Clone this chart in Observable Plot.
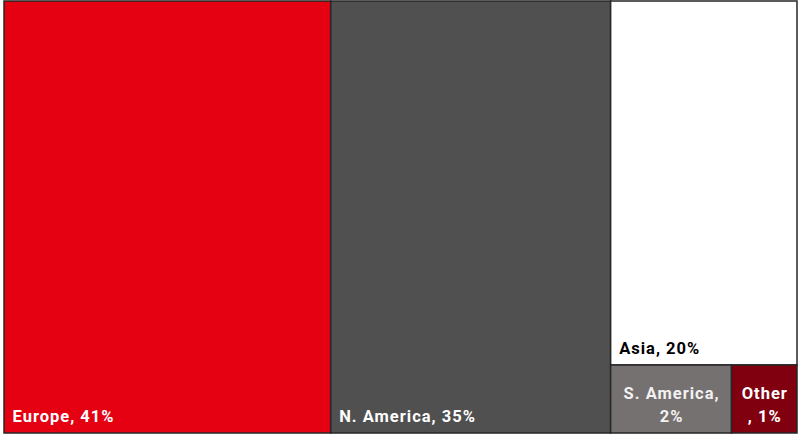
<!DOCTYPE html>
<html>
<head>
<meta charset="utf-8">
<script src="https://cdn.jsdelivr.net/npm/d3@7"></script>
<script src="https://cdn.jsdelivr.net/npm/@observablehq/plot@0.6"></script>
<style>
  html, body { margin: 0; padding: 0; background: #ffffff; }
  #chart svg { display: block; }
</style>
</head>
<body>
<div id="chart"></div>
<script>
// Data (share of total, %)
const regions = ["Europe", "N. America", "Asia", "S. America", "Other"];
const shares  = [41.2, 35.3, 19.8, 2.4, 1.3];
const labels  = ["Europe, 41%", "N. America, 35%", "Asia, 20%", "S. America,\n2%", "Other\n, 1%"];
// nesting of the tiles: top level, right column, bottom strip
const groups  = ["", "", "right", "right/bottom", "right/bottom"];
const colors  = ["#e50012", "#505050", "#ffffff", "#767171", "#800010"];
const textColors = ["#ffffff", "#ffffff", "#000000", "#f2f2f2", "#ffffff"];
const centered = [false, false, false, true, true];

// build hierarchy
const rootObj = {name: "root", children: []};
function findGroup(path) {
  let node = rootObj;
  if (!path) return node;
  for (const part of path.split("/")) {
    let child = node.children.find(c => c.name === part && c.children);
    if (!child) { child = {name: part, children: []}; node.children.push(child); }
    node = child;
  }
  return node;
}
regions.forEach((r, i) => {
  findGroup(groups[i]).children.push({name: r, value: shares[i], i});
});
const root = d3.hierarchy(rootObj).sum(d => d.value || 0);
d3.treemap().tile(d3.treemapSliceDice).size([1, 1]).padding(0)(root);
const tiles = root.leaves().map(n => ({
  region: n.data.name,
  x0: n.x0, x1: n.x1, y0: n.y0, y1: n.y1,
  xm: (n.x0 + n.x1) / 2,
  label: labels[n.data.i],
  fill: colors[n.data.i],
  textFill: textColors[n.data.i],
  centered: centered[n.data.i]
}));

const W = 798, H = 434;
const mL = 4, mR = 1, mT = 1, mB = 1;
const chart = Plot.plot({
  width: W,
  height: H,
  marginLeft: mL, marginRight: mR, marginTop: mT, marginBottom: mB,
  x: {domain: [0, 1], range: [mL, W - mR], axis: null},
  y: {domain: [0, 1], range: [mT, H - mB], axis: null},
  style: {fontFamily: "Roboto, 'Liberation Sans', sans-serif", background: "#ffffff", letterSpacing: "1px"},
  marks: [
    Plot.rect(tiles, {x1: "x0", x2: "x1", y1: "y0", y2: "y1", fill: "fill", stroke: "#262626", strokeWidth: 1.5}),
    Plot.text(tiles.filter(d => !d.centered), {
      x: "x0", y: "y1", text: "label", fill: "textFill",
      textAnchor: "start", lineAnchor: "bottom", dx: 8, dy: -11.5,
      fontSize: 16.5, fontWeight: "bold"
    }),
    Plot.text(tiles.filter(d => d.centered), {
      x: "xm", y: "y1", text: "label", fill: "textFill",
      textAnchor: "middle", lineAnchor: "bottom", dy: -11.5, lineHeight: 1.42,
      fontSize: 16.5, fontWeight: "bold"
    })
  ]
});
document.getElementById("chart").appendChild(chart);
</script>
</body>
</html>
